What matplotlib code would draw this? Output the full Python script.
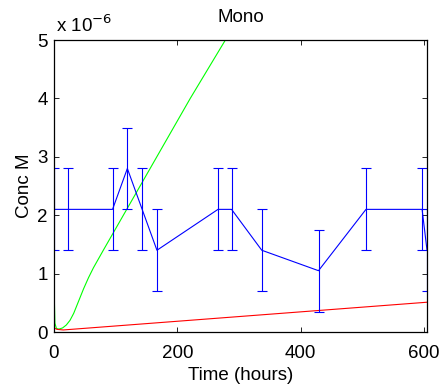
import matplotlib
matplotlib.use('Agg')
import matplotlib.pyplot as plt

plt.rcParams['font.family'] = ['Liberation Sans', 'DejaVu Sans']

# measured concentrations (units of 1e-6 M)
t_meas = [0, 23, 95, 119, 143, 167, 266, 288, 337, 429, 506, 597, 605]
c_meas = [2.1, 2.1, 2.1, 2.8, 2.1, 1.4, 2.1, 2.1, 1.4, 1.05, 2.1, 2.1, 1.4]
c_err = [0.7, 0.7, 0.7, 0.7, 0.7, 0.7, 0.7, 0.7, 0.7, 0.7, 0.7, 0.7, 0.7]

# model curves
t_green = [0, 0.5, 1.5, 4, 8, 14, 20, 26, 32, 40, 48, 56, 64, 80, 221, 278, 300]
c_green = [2.1, 0.6, 0.15, 0.06, 0.05, 0.07, 0.12, 0.2, 0.32, 0.53, 0.74, 0.93, 1.1, 1.4, 4.0, 5.0, 5.4]

t_red = [0, 5, 15, 605]
c_red = [0.07, 0.045, 0.035, 0.51]

fs = 13.5

fig = plt.figure(figsize=(4.45, 3.9), dpi=100)
ax = fig.add_axes([0.1213, 0.1487, 0.8383, 0.7487])

ax.plot(t_green, c_green, color=(0, 1, 0), lw=0.8)
ax.plot(t_red, c_red, color=(1, 0, 0), lw=0.8)
ax.errorbar(t_meas, c_meas, yerr=c_err, color=(0, 0, 1), lw=0.8,
            elinewidth=0.8, capsize=3.5, capthick=0.8)

ax.set_xlim(0, 605)
ax.set_ylim(0, 5)
ax.set_xticks([0, 200, 400, 600])
ax.set_yticks([0, 1, 2, 3, 4, 5])
ax.tick_params(direction='in', length=3.5, width=0.6, labelsize=fs,
               top=True, right=True)
ax.tick_params(axis='x', pad=9)
ax.tick_params(axis='y', pad=4.5)
for s in ax.spines.values():
    s.set_linewidth(0.9)

ax.text(0.005, 1.015, r'x 10$^{-6}$', transform=ax.transAxes, fontsize=fs,
        ha='left', va='bottom')
ax.set_title('Mono', fontsize=fs, pad=13)
ax.set_xlabel('Time (hours)', fontsize=fs, labelpad=4)
ax.set_ylabel('Conc M', fontsize=fs, labelpad=3)

fig.savefig('out.png', dpi=100)
